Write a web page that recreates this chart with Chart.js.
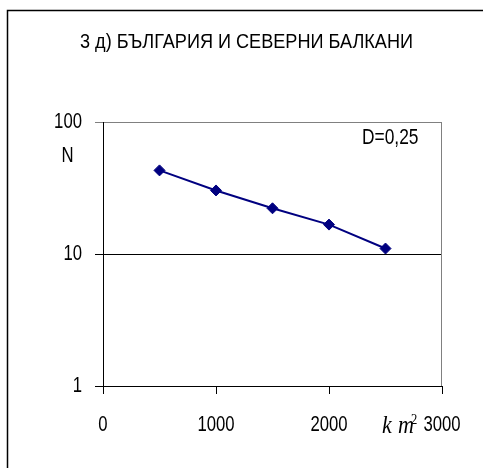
<!DOCTYPE html>
<html>
<head>
<meta charset="utf-8">
<script src="https://cdn.jsdelivr.net/npm/chart.js@4/dist/chart.umd.min.js"></script>
<style>
  html, body { margin: 0; padding: 0; background: #fff; }
  #wrap { width: 483px; height: 468px; }
</style>
</head>
<body>
<div id="wrap"><canvas id="c" width="483" height="468"></canvas></div>
<script>
// Fracture counts N against area (km²), log scale
const chartTitle = '3 д) БЪЛГАРИЯ И СЕВЕРНИ БАЛКАНИ';
const areas = [500, 1000, 1500, 2000, 2500];
const counts = [43, 30.3, 22.2, 16.7, 11.0];
const xTicks = [0, 1000, 2000, 3000];
const yTicks = [1, 10, 100];
const yLabel = 'N';
const dimensionLabel = 'D=0,25';

const SANS = '"Liberation Sans", Arial, sans-serif';
const SERIF = '"Liberation Serif", "Times New Roman", serif';
const SQUEEZE = 0.76;   // narrow lettering

// Draw text squeezed horizontally around its anchor point
function narrowText(ctx, text, x, y, align, sx) {
  ctx.save();
  ctx.translate(x, y);
  ctx.scale(sx, 1);
  ctx.textAlign = align;
  ctx.fillText(text, 0, 0);
  ctx.restore();
}

const decorations = {
  id: 'decorations',
  afterDraw(chart) {
    const ctx = chart.ctx;
    const a = chart.chartArea;
    const xs = chart.scales.x;
    const ys = chart.scales.y;
    ctx.save();
    // outer frame (top and left edges)
    ctx.strokeStyle = '#000';
    ctx.lineWidth = 1.5;
    ctx.beginPath();
    ctx.moveTo(7.5, 468); ctx.lineTo(7.5, 10.5); ctx.lineTo(483, 10.5);
    ctx.stroke();
    // right plot edge
    ctx.lineWidth = 1;
    ctx.strokeStyle = '#808080';
    ctx.beginPath();
    ctx.moveTo(Math.round(a.right) - 0.5, a.top);
    ctx.lineTo(Math.round(a.right) - 0.5, a.bottom);
    ctx.stroke();

    ctx.fillStyle = '#000';
    // title
    ctx.textBaseline = 'alphabetic';
    ctx.font = '20px ' + SANS;
    const tw = ctx.measureText(chartTitle).width;
    narrowText(ctx, chartTitle, 246.5, 48, 'center', 333 / tw);

    // tick labels
    ctx.textBaseline = 'middle';
    ctx.font = '22px ' + SANS;
    xs.ticks.forEach(t => {
      narrowText(ctx, String(t.value), xs.getPixelForValue(t.value), 425, 'center', SQUEEZE);
    });
    ys.ticks.forEach(t => {
      narrowText(ctx, String(t.value), 82, ys.getPixelForValue(t.value), 'right', SQUEEZE);
    });

    // axis label and dimension text
    narrowText(ctx, yLabel, 67.5, 156, 'center', SQUEEZE);
    narrowText(ctx, dimensionLabel, 362, 137.5, 'left', 0.79);

    // unit km² next to the last x tick
    ctx.textBaseline = 'alphabetic';
    ctx.font = 'italic 26px ' + SERIF;
    narrowText(ctx, 'k', 382, 433, 'left', 0.85);
    narrowText(ctx, 'm', 398, 433, 'left', 0.85);
    ctx.font = '14px ' + SERIF;
    narrowText(ctx, '2', 411, 424, 'left', 0.9);
    ctx.restore();
  }
};

new Chart(document.getElementById('c'), {
  type: 'line',
  data: {
    datasets: [{
      data: areas.map((x, i) => ({ x: x, y: counts[i] })),
      borderColor: '#000080',
      backgroundColor: '#000080',
      borderWidth: 2,
      pointStyle: 'rectRot',
      pointRadius: 5.5,
      pointBorderWidth: 1,
      pointBackgroundColor: '#000080',
      pointBorderColor: '#000080',
      tension: 0
    }]
  },
  options: {
    responsive: false,
    animation: false,
    events: [],
    layout: { padding: { left: 0, right: 41, top: 122, bottom: 0 } },
    plugins: {
      legend: { display: false },
      tooltip: { enabled: false },
      title: { display: false }
    },
    scales: {
      x: {
        type: 'linear',
        position: 'bottom',
        min: 0,
        max: 3000,
        afterBuildTicks: s => { s.ticks = xTicks.map(v => ({ value: v })); },
        afterFit: s => { s.height = 82; },
        ticks: { display: false },
        grid: { drawOnChartArea: false, tickLength: 8, color: '#000' },
        border: { color: '#000', width: 1 }
      },
      y: {
        type: 'logarithmic',
        min: 1,
        max: 100,
        afterBuildTicks: s => { s.ticks = yTicks.map(v => ({ value: v })); },
        afterFit: s => { s.width = 103; },
        ticks: { display: false },
        grid: {
          tickLength: 8,
          color: c => (c.tick && c.tick.value === 100 ? '#808080' : '#000')
        },
        border: { color: '#000', width: 1 }
      }
    }
  },
  plugins: [decorations]
});
</script>
</body>
</html>
